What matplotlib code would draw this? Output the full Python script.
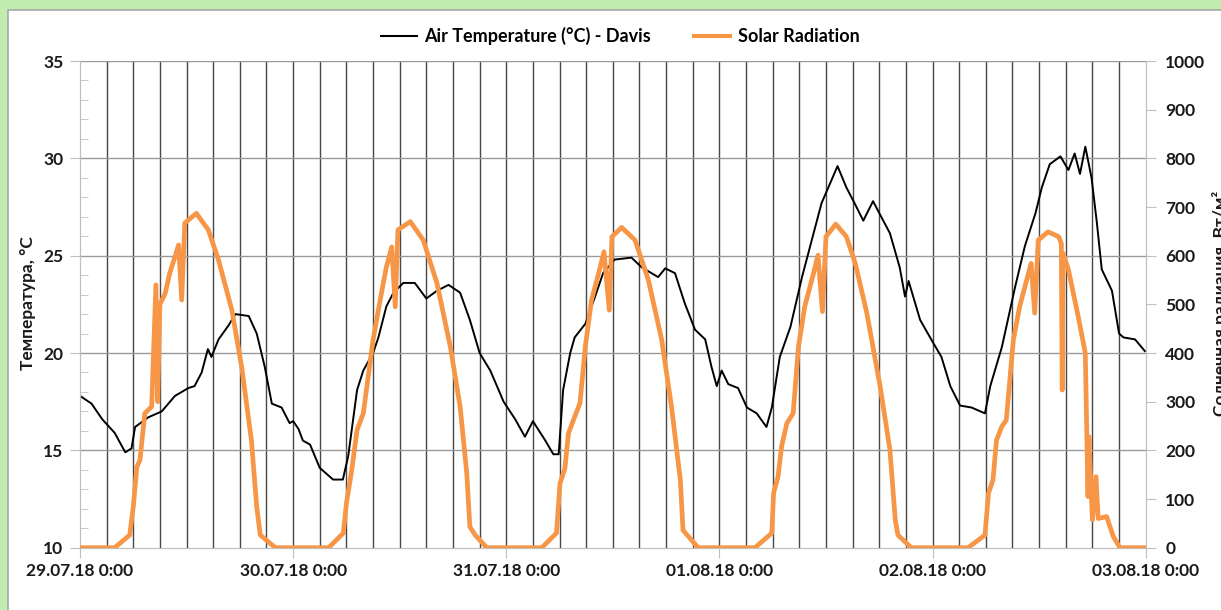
import numpy as np
import matplotlib
matplotlib.use("Agg")
import matplotlib.pyplot as plt
from matplotlib.patches import Rectangle
from matplotlib.lines import Line2D

plt.rcParams['font.family'] = ['Lato', 'Noto Sans', 'DejaVu Sans']
plt.rcParams['font.weight'] = 'bold'

# hours since 29.07.18 0:00
temp_hours = [0, 1.3, 2.5, 3.9, 5.1, 5.8, 6.2, 7.7, 9.2, 10.7, 12.2, 12.9, 13.7, 14.4, 14.8, 15.6, 16.7, 17.5,
              19.0, 19.9, 20.8, 21.6, 22.7, 23.6, 24.0, 24.6, 25.1, 25.9, 27.0, 28.5, 29.6, 30.2, 31.2, 31.9,
              33.0, 33.6, 34.5, 35.3, 36.4, 37.7, 39.0, 40.2, 41.5, 42.8, 43.9, 45.0, 46.2, 47.7, 49.0, 50.1,
              51.0, 52.4, 53.3, 53.9, 54.4, 55.2, 55.7, 56.9, 58.0, 58.9, 60.2, 62.1, 63.25, 65.1, 65.9, 67.0,
              68.1, 69.25, 70.4, 71.1, 71.7, 72.25, 73.0, 74.1, 75.1, 76.2, 77.3, 77.9, 78.8, 80.0, 81.3, 82.4,
              83.5, 84.45, 85.3, 86.3, 87.1, 88.2, 89.3, 90.1, 91.2, 92.3, 92.9, 93.3, 94.6, 96.1, 97.0, 98.0,
              99.1, 100.4, 101.9, 102.5, 103.8, 105.3, 106.4, 107.6, 108.3, 109.2, 110.4, 111.3, 112.0, 112.6,
              113.2, 113.9, 114.5, 115.05, 116.2, 117.0, 117.5, 118.8, 119.9]
temp_values = [17.8, 17.4, 16.6, 15.9, 14.9, 15.1, 16.2, 16.7, 17.0, 17.8, 18.2, 18.3, 19.0, 20.2, 19.8, 20.7, 21.4, 22.0,
               21.9, 21.0, 19.3, 17.4, 17.2, 16.4, 16.5, 16.1, 15.5, 15.3, 14.1, 13.5, 13.5, 14.7, 18.1, 19.1,
               20.0, 20.8, 22.4, 23.1, 23.6, 23.6, 22.8, 23.2, 23.5, 23.1, 21.7, 20.0, 19.1, 17.5, 16.6, 15.7,
               16.5, 15.5, 14.8, 14.8, 18.1, 20.0, 20.8, 21.5, 22.9, 24.1, 24.8, 24.9, 24.4, 23.9, 24.35, 24.1,
               22.55, 21.2, 20.7, 19.3, 18.3, 19.1, 18.4, 18.2, 17.2, 16.9, 16.2, 17.2, 19.8, 21.35, 23.9, 25.8,
               27.7, 28.7, 29.6, 28.5, 27.8, 26.8, 27.8, 27.1, 26.15, 24.4, 22.9, 23.7, 21.7, 20.5, 19.8, 18.3,
               17.3, 17.2, 16.9, 18.3, 20.3, 23.4, 25.5, 27.2, 28.5, 29.7, 30.1, 29.4, 30.25, 29.2,
               30.6, 29.0, 26.7, 24.3, 23.2, 21.0, 20.8, 20.7, 20.1]

solar_hours = [0, 3.9, 5.6, 6.0, 6.4, 6.75, 7.3, 8.07, 8.55, 8.75, 9.0, 9.6, 10.1, 10.7, 11.1, 11.45, 11.8, 13.1,
               14.45, 15.6, 17.1, 18.2, 19.3, 19.9, 20.3, 22.0,
               28.0, 29.65, 30.0, 30.6, 31.2, 31.9, 32.5, 33.0, 33.8, 34.5, 35.1, 35.5, 35.8, 37.2, 38.65, 40.2,
               41.7, 42.8, 43.55, 43.9, 44.5, 45.8,
               52.0, 53.65, 54.05, 54.6, 55.0, 55.7, 56.3, 56.9, 57.6, 58.4, 59.0, 59.6, 59.9, 61.0, 62.5, 64.0,
               65.5, 66.6, 67.6, 67.9, 69.6,
               76.0, 77.9, 78.1, 78.6, 79.0, 79.6, 80.3, 80.9, 81.6, 82.6, 83.1, 83.6, 84.0, 85.1, 86.3, 87.3,
               88.6, 90.1, 91.2, 91.8, 92.1, 93.6,
               100.0, 101.9, 102.3, 102.8, 103.2, 103.8, 104.3, 105.1, 105.8, 106.6, 107.1, 107.5, 107.9, 109.0,
               110.2, 110.5, 110.6, 110.7, 111.3, 112.4, 113.2, 113.5, 113.6, 114.0, 114.4, 114.65, 115.6,
               116.35, 117.1, 120]
solar_values = [0, 0, 26, 84, 166, 180, 276, 290, 540, 300, 500, 523, 564, 598, 622, 509, 667, 687,
                653, 591, 488, 372, 221, 84, 26, 0,
                0, 30, 91, 160, 242, 276, 358, 427, 509, 577, 618, 495, 653, 670, 632, 543,
                413, 290, 153, 43, 26, 0,
                0, 30, 132, 163, 235, 269, 297, 413, 509, 564, 608, 488, 639, 658, 632, 550,
                427, 290, 139, 36, 0,
                0, 30, 112, 146, 208, 256, 276, 413, 495, 564, 601, 485, 639, 665, 639, 584,
                482, 331, 201, 57, 26, 0,
                0, 26, 112, 139, 221, 249, 262, 427, 495, 550, 584, 482, 632, 649,
                639, 625, 324, 605, 571, 475, 400, 105, 228, 57, 146, 60, 64,
                23, 0, 0]

day_labels = ['29.07.18 0:00', '30.07.18 0:00', '31.07.18 0:00', '01.08.18 0:00', '02.08.18 0:00', '03.08.18 0:00']

W, H = 1221, 610
FS = 12.5
fig = plt.figure(figsize=(W / 100, H / 100), dpi=100, facecolor='#c0ecb0')
fig.patches.append(Rectangle((8 / W, -0.1), 1.2, (H - 10) / H + 0.1, transform=fig.transFigure,
                             facecolor='white', edgecolor='#a8a8a8', lw=1.2, zorder=-5))

ax = fig.add_axes([80 / W, (H - 547.7) / H, (1145.7 - 80) / W, (547.7 - 61) / H])
ax.set_facecolor('none')
ax2 = ax.twinx()

# vertical grid every 3 hours
for h in np.arange(3, 120, 3):
    ax.axvline(h, color='#474747', lw=1.0, zorder=1)
for t in [15, 20, 25, 30, 35]:
    ax.axhline(t, color='#9a9a9a', lw=1.0, zorder=1)

ax.plot(temp_hours, temp_values, color='black', lw=1.4, zorder=3)
ax2.plot(solar_hours, solar_values, color='#f79646', lw=3.4, solid_joinstyle='round', zorder=3)

ax.set_xlim(0, 120)
ax.set_ylim(10, 35)
ax2.set_ylim(0, 1000)

ax.set_xticks(np.arange(0, 121, 24))
ax.set_xticklabels(day_labels)
ax.set_yticks(np.arange(10, 36, 5))
ax.set_yticks(np.arange(10, 36, 1), minor=True)
ax2.set_yticks(np.arange(0, 1001, 100))

for a in (ax, ax2):
    for s in a.spines.values():
        s.set_color('#bfbfbf')
    a.spines['top'].set_visible(False)
ax.tick_params(axis='both', which='major', length=7, color='#bfbfbf', labelsize=FS, labelcolor='#1a1a1a')
ax.tick_params(axis='x', pad=4)
ax.tick_params(axis='y', pad=5)
ax.tick_params(axis='y', which='minor', direction='in', length=6, color='#bfbfbf')
ax2.tick_params(axis='y', length=7, color='#bfbfbf', labelsize=FS, labelcolor='#1a1a1a', pad=7)
for lbl in ax.get_xticklabels() + ax.get_yticklabels() + ax2.get_yticklabels():
    lbl.set_fontweight('bold')

fig.text(28 / W, 1 - 303 / H, 'Температура, °C', rotation=90, ha='center', va='center',
         fontsize=FS, fontweight='bold', color='#1a1a1a')
fig.text(1212 / W, 1 - 303 / H, 'Солнечная радиация, Вт/м²', rotation=90, ha='left', va='center',
         fontsize=FS, fontweight='bold', color='#1a1a1a')

handles = [Line2D([], [], color='black', lw=1.5), Line2D([], [], color='#f79646', lw=3)]
fig.legend(handles, ['Air Temperature (°C) - Davis', 'Solar Radiation'], loc='center',
           bbox_to_anchor=(620 / W, 1 - 36 / H), ncol=2, frameon=False,
           handlelength=2.0, handletextpad=0.4, columnspacing=2.4, prop={'weight': 'bold', 'size': 13})

fig.savefig('out.png', dpi=100, facecolor=fig.get_facecolor())
